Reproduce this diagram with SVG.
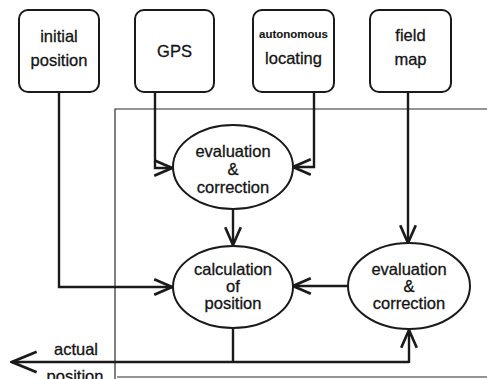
<svg xmlns="http://www.w3.org/2000/svg" width="487" height="379" viewBox="0 0 487 379">
  <style>
    text { font-family: "Liberation Sans", Arial, sans-serif; font-size: 16.5px; fill: #141414; stroke: #141414; stroke-width: 0.3; text-anchor: middle; }
    .small { font-size: 11.5px; font-weight: bold; stroke-width: 0.1; }
    .box { fill: #fff; stroke: #1a1a1a; stroke-width: 2; }
    .oval { fill: #fff; stroke: #1a1a1a; stroke-width: 2; }
    .link { fill: none; stroke: #1a1a1a; stroke-width: 2.4; }
    .frame { fill: none; stroke: #2a2a2a; stroke-width: 1.2; }
  </style>
  <defs>
    <marker id="arrow" markerUnits="userSpaceOnUse" markerWidth="24" markerHeight="20" viewBox="-18 -9 20 18" refX="0" refY="0" orient="auto">
      <path d="M-16 -7 L0 0 L-16 7" fill="none" stroke="#1a1a1a" stroke-width="2.4"/>
    </marker>
    <marker id="arrowBig" markerUnits="userSpaceOnUse" markerWidth="30" markerHeight="26" viewBox="-26 -12 28 24" refX="0" refY="0" orient="auto">
      <path d="M-23 -9.5 L0 0 L-23 9.5" fill="none" stroke="#1a1a1a" stroke-width="2.6"/>
    </marker>
  </defs>

  <rect width="487" height="379" fill="#fff"/>

  <!-- system boundary frame (open on the right) -->
  <path class="frame" d="M487 109 H115 V379 M117 377 H487"/>

  <!-- connectors -->
  <g id="connectors">
    <path class="link" d="M59 92 V287 H172" marker-end="url(#arrow)"/>
    <path class="link" d="M155 92 V168 H172" marker-end="url(#arrow)"/>
    <path class="link" d="M314 92 V167 H293" marker-end="url(#arrow)"/>
    <path class="link" d="M408 92 V243" marker-end="url(#arrow)"/>
    <path class="link" d="M233 209 V245" marker-end="url(#arrow)"/>
    <path class="link" d="M348 286 H293" marker-end="url(#arrow)"/>
    <path class="link" d="M233 328 V362"/>
    <path class="link" d="M409 362 H12" marker-end="url(#arrowBig)"/>
    <path class="link" d="M409 363 V330" marker-end="url(#arrow)"/>
  </g>

  <!-- source boxes -->
  <g id="initial-position">
    <rect class="box" x="19" y="10" width="80" height="82" rx="9"/>
    <text x="59" y="42">initial</text>
    <text x="59" y="66">position</text>
  </g>
  <g id="gps">
    <rect class="box" x="135" y="10" width="79" height="82" rx="9"/>
    <text x="174.5" y="57">GPS</text>
  </g>
  <g id="autonomous-locating">
    <rect class="box" x="253" y="10" width="81" height="82" rx="9"/>
    <text class="small" x="293.5" y="38">autonomous</text>
    <text x="293.5" y="64">locating</text>
  </g>
  <g id="field-map">
    <rect class="box" x="370" y="10" width="81" height="82" rx="9"/>
    <text x="410.5" y="41">field</text>
    <text x="410.5" y="65">map</text>
  </g>

  <!-- processing ovals -->
  <g id="evaluation-top">
    <ellipse class="oval" cx="233" cy="167" rx="60" ry="42"/>
    <text x="233" y="157">evaluation</text>
    <text x="233" y="175">&amp;</text>
    <text x="233" y="193">correction</text>
  </g>
  <g id="calculation">
    <ellipse class="oval" cx="233" cy="287" rx="60" ry="41"/>
    <text x="233" y="275">calculation</text>
    <text x="233" y="292">of</text>
    <text x="233" y="309">position</text>
  </g>
  <g id="evaluation-right">
    <ellipse class="oval" cx="409" cy="286" rx="61" ry="43"/>
    <text x="409" y="275">evaluation</text>
    <text x="409" y="292">&amp;</text>
    <text x="409" y="309">correction</text>
  </g>

  <!-- output label -->
  <g id="actual-position">
    <text x="76" y="355">actual</text>
    <text x="75" y="382">position</text>
  </g>
</svg>
